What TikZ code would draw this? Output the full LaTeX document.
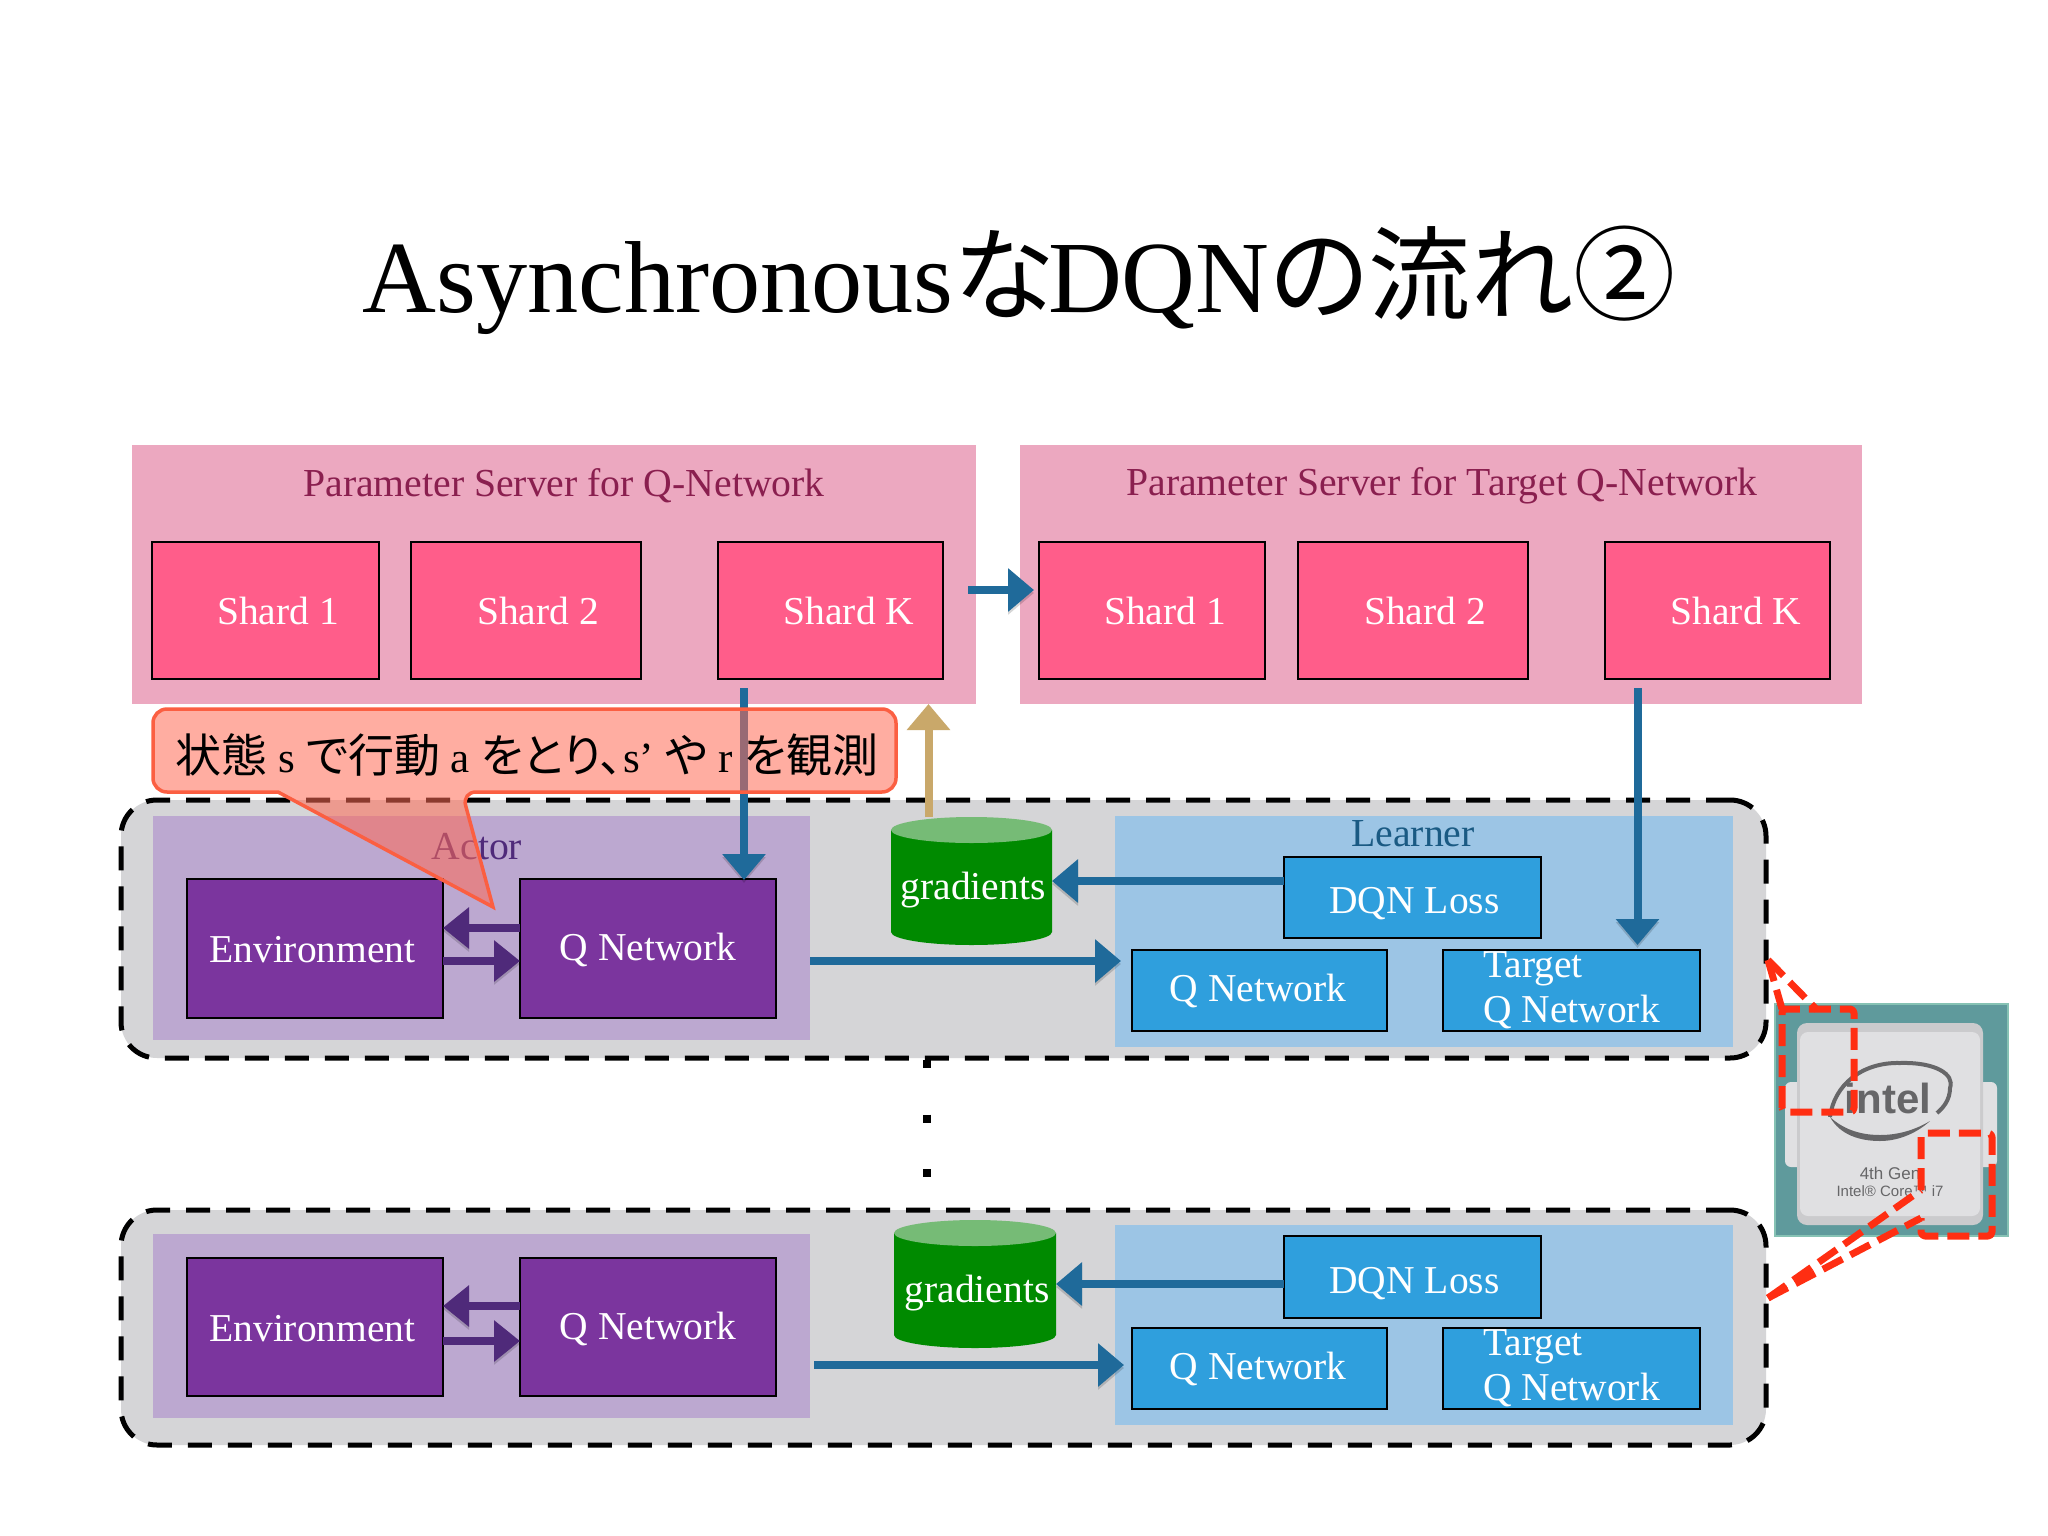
\documentclass[tikz,border=0pt]{standalone}
\usepackage{fontspec}
\setmainfont{Liberation Serif}
\newfontfamily\cjk[RawFeature=+palt]{Noto Sans CJK JP}
\newfontfamily\sansf{Liberation Sans}
\usetikzlibrary{arrows.meta}
\definecolor{panelgray}{HTML}{D5D5D7}
\definecolor{pinkbg}{HTML}{ECA8C0}
\definecolor{shardc}{HTML}{FF5D8A}
\definecolor{maroon}{HTML}{8A1F4F}
\definecolor{lilac}{HTML}{BCA8D0}
\definecolor{purp}{HTML}{7B359E}
\definecolor{dpurp}{HTML}{4F2A7A}
\definecolor{lblue}{HTML}{9CC5E5}
\definecolor{mblue}{HTML}{2F9FDD}
\definecolor{dblue}{HTML}{1F6A9A}
\definecolor{tan}{HTML}{C9A86A}
\definecolor{cylg}{HTML}{008A00}
\definecolor{cylt}{HTML}{76BB76}
\definecolor{calf}{HTML}{FF6A55}
\definecolor{cale}{HTML}{FB5F42}
\definecolor{redd}{HTML}{FF2E12}
\definecolor{chipt}{HTML}{5F9A9C}
\definecolor{chipe}{HTML}{86C2B4}
\definecolor{chipm}{HTML}{CBCBCD}
\definecolor{chips}{HTML}{E0E0E2}
\definecolor{logoc}{HTML}{666668}
\newcommand\rbox[7]{\pgfmathsetmacro\rw{#5-#3}\pgfmathsetmacro\rh{#6-#4}%
  \node[#2,minimum width=\rw pt,minimum height=\rh pt,anchor=north west] (#1) at (#3,#4) {#7};}
\newcommand\cylbox[5]{\rbox{#1}{base}{#2}{#3}{#4}{#5}{}%
  \pgfmathsetmacro\crx{(#4-#2)/2}%
  \fill[cylg] ([yshift=-13pt]#1.north west) -- ([yshift=13pt]#1.south west)
     arc[start angle=180,end angle=360,x radius=\crx pt,y radius=13pt]
     -- ([yshift=-13pt]#1.north east) -- cycle;
  \fill[cylt] ([yshift=-13pt]#1.north) ellipse[x radius=\crx pt,y radius=13pt];}
\newcommand\dn[2]{\raisebox{-#1pt}[\height][\depth]{#2}}
\tikzset{
  base/.style={inner sep=0pt,outer sep=0pt,rectangle},
  outerp/.style={base,fill=panelgray,draw=black,line width=5pt,rounded corners=36pt,dash pattern=on 24pt off 16pt},
  pinkp/.style={base,fill=pinkbg},
  shard/.style={base,fill=shardc,draw=black,line width=1.8pt},
  actorp/.style={base,fill=lilac},
  learnp/.style={base,fill=lblue},
  pbox/.style={base,fill=purp,draw=black,line width=2pt,text=white,font=\fontsize{39.5}{45}\selectfont},
  bbox/.style={base,fill=mblue,draw=black,line width=2pt,text=white,font=\fontsize{39.5}{45}\selectfont,align=left},
  wtxt/.style={inner sep=0pt,text=white,font=\fontsize{39.5}{45}\selectfont},
  head/.style={inner sep=0pt,font=\fontsize{39.7}{45}\selectfont},
  arrshadow/.style={preaction={draw=black,draw opacity=.16,transform canvas={yshift=-3pt}}},
  arr/.style={line width=8pt,-{Triangle[length=26pt,width=42pt]}},
  bluearr/.style={arr,color=dblue,arrshadow},
  purparr/.style={line width=8pt,-{Triangle[length=26pt,width=40pt]},color=dpurp,arrshadow},
  tanarr/.style={arr,color=tan},
  reddash/.style={draw=redd,line width=7pt,dash pattern=on 22pt off 9pt,line join=round},
  x=1pt,y=-1pt}
\begin{document}
\begin{tikzpicture}
\useasboundingbox (0,0) rectangle (2048,1536);
\fill[white] (0,0) rectangle (2048,1536);

% title
\node[inner sep=0pt,font=\fontsize{102.3}{110}\selectfont] (title) at (1019,280)
  {Asynchronous{\cjk な}\kern-6pt DQN{\cjk の流れ②}};

% parameter servers
\rbox{pinkL}{pinkp}{132}{445}{976}{704}{}
\rbox{pinkR}{pinkp}{1020}{445}{1862}{704}{}
\node[head,text=maroon] (psL) at (564,486) {Parameter Server for Q-Network};
\node[head,text=maroon] (psR) at (1442,486) {Parameter Server for Target Q-Network};
\rbox{sa1}{shard}{152}{542}{379}{679}{}
\rbox{sa2}{shard}{411}{542}{641}{679}{}
\rbox{sak}{shard}{718}{542}{943}{679}{}
\rbox{sb1}{shard}{1039}{542}{1265}{679}{}
\rbox{sb2}{shard}{1298}{542}{1528}{679}{}
\rbox{sbk}{shard}{1605}{542}{1830}{679}{}
\node[wtxt] (ta1) at ([xshift=12.5pt,yshift=0pt]sa1.center) {Shard 1};
\node[wtxt] (ta2) at ([xshift=12pt,yshift=0pt]sa2.center) {Shard 2};
\node[wtxt] (tak) at ([xshift=18.5pt,yshift=0pt]sak.center) {Shard K};
\node[wtxt] (tb1) at ([xshift=13pt,yshift=0pt]sb1.center) {Shard 1};
\node[wtxt] (tb2) at ([xshift=12pt,yshift=0pt]sb2.center) {Shard 2};
\node[wtxt] (tbk) at ([xshift=18.5pt,yshift=0pt]sbk.center) {Shard K};

% upper worker
\rbox{outA}{outerp}{121}{800}{1766}{1058}{}
\rbox{actA}{actorp}{153}{816}{810}{1040}{}
\rbox{lrnA}{learnp}{1115}{816}{1733}{1047}{}
\node[head,text=dpurp] (actT) at (477,847) {Actor};
\node[head,text=dblue!85!black] (lrnT) at (1413,834) {Learner};
\rbox{envA}{pbox}{187}{879}{443}{1018}{\dn{1.5}{Environment}\hspace{5pt}\null}
\rbox{qA}{pbox}{520}{879}{776}{1018}{\dn{1.5}{Q Network}}
\rbox{lossA}{bbox}{1284}{857}{1541}{938}{\hspace{4pt}\dn{6.5}{DQN Loss}}
\rbox{qlA}{bbox}{1132}{950}{1387}{1031}{Q Network\hspace{3pt}}
\rbox{tgA}{bbox}{1443}{950}{1700}{1031}{Target\\Q Network}
\cylbox{cylA}{891}{817}{1052}{945}
\node[wtxt] (gradA) at (973,890) {gradients};

% lower worker
\rbox{outB}{outerp}{121}{1210}{1766}{1445}{}
\rbox{actB}{actorp}{153}{1234}{810}{1418}{}
\rbox{lrnB}{learnp}{1115}{1225}{1733}{1425}{}
\rbox{envB}{pbox}{187}{1258}{443}{1396}{\dn{1.5}{Environment}\hspace{5pt}\null}
\rbox{qB}{pbox}{520}{1258}{776}{1396}{\dn{1.5}{Q Network}}
\rbox{lossB}{bbox}{1284}{1236}{1541}{1318}{\hspace{4pt}\dn{6.5}{DQN Loss}}
\rbox{qlB}{bbox}{1132}{1328}{1387}{1409}{Q Network\hspace{3pt}}
\rbox{tgB}{bbox}{1443}{1328}{1700}{1409}{Target\\Q Network}
\cylbox{cylB}{894}{1220}{1056}{1348}
\node[wtxt] (gradB) at (977,1293) {gradients};

% vertical dots
\coordinate (dotsend) at (927,1178);
\draw[line width=8pt,dash pattern=on 8pt off 46.5pt] ([xshift=-16.5pt,yshift=-2pt]outA.south) -- (dotsend);

% connectors, upper
\draw[bluearr] ([xshift=-8pt,yshift=-15.5pt]pinkL.east) -- ([xshift=-5pt,yshift=20.5pt]sb1.west);
\draw[bluearr] ([xshift=-86.5pt,yshift=-9pt]sak.south) -- ([xshift=96pt,yshift=-1pt]qA.north);
\draw[bluearr] ([xshift=-80pt,yshift=-9pt]sbk.south) -- ([xshift=66pt,yshift=5pt]tgA.north);
\draw[purparr] ([yshift=20.5pt]qA.west) -- ([yshift=20.5pt]envA.east);
\draw[purparr] ([yshift=-12.5pt]envA.east) -- ([yshift=-12.5pt]qA.west);
\draw[bluearr] ([yshift=-33pt]actA.east) -- ([xshift=-11pt,yshift=29.5pt]qlA.west);
\draw[bluearr] ([yshift=16.5pt]lossA.west) -- ([yshift=16.5pt]lossA.west -| cylA.east);
\draw[tanarr] ([xshift=-43pt]cylA.north) -- ([xshift=-43pt]cylA.north |- pinkL.south);

% connectors, lower
\draw[purparr] ([yshift=21pt]qB.west) -- ([yshift=21pt]envB.east);
\draw[purparr] ([yshift=-14pt]envB.east) -- ([yshift=-14pt]qB.west);
\draw[bluearr] ([xshift=4pt,yshift=-39pt]actB.east) -- ([xshift=-8pt,yshift=3.5pt]qlB.west);
\draw[bluearr] ([yshift=-7pt]lossB.west) -- ([yshift=-7pt]lossB.west -| cylB.east);

% callout
\path[fill=calf,fill opacity=.55,draw=cale,draw opacity=1,line width=3.5pt,rounded corners=14pt]
  (500,709) -- (896,709) -- (896,792) -- (462,792) [sharp corners] -- (493,907) -- (278,792)
  [rounded corners=14pt] -- (153,792) -- (153,709) -- cycle;
\node[inner sep=0pt,font=\fontsize{43}{45}\selectfont] (calT) at (527,755)
  {{\cjk\fontsize{46}{45}\selectfont 状態} s {\cjk\fontsize{46}{45}\selectfont で行動} a {\cjk\fontsize{46}{45}\selectfont をとり、}s’ {\cjk\fontsize{46}{45}\selectfont や} r {\cjk\fontsize{46}{45}\selectfont を観測}};

% chip
\rbox{chip}{base,fill=chipt,draw=chipe,line width=2pt}{1775}{1004}{2008}{1236}{}
\fill[chips,rounded corners=6pt] (1785,1082) rectangle (1997,1167);
\rbox{lid}{base,fill=chipm,rounded corners=10pt}{1797}{1023}{1983}{1225}{}
\fill[chips,rounded corners=8pt] (1800,1032) rectangle (1980,1216);
\draw[logoc,line width=4pt] (1830,1117) .. controls (1834,1085) and (1862,1062) .. (1900,1063)
  .. controls (1935,1062) and (1955,1074) .. (1950,1088) .. controls (1950,1100) and (1943,1108) .. (1937,1113);
\fill[logoc] (1830,1117) .. controls (1840,1135) and (1860,1141) .. (1880,1141)
  .. controls (1900,1141) and (1918,1132) .. (1930,1121) .. controls (1915,1130) and (1898,1135) .. (1880,1135)
  .. controls (1858,1135) and (1842,1128) .. (1830,1117) -- cycle;
\node[inner sep=0pt,text=logoc,font=\sansf\bfseries\fontsize{42}{42}\selectfont] (intel) at (1888,1098) {intel};
\node[inner sep=0pt,text=logoc,font=\sansf\fontsize{17}{20}\selectfont] (gen) at (1890,1173) {4th Gen};
\node[inner sep=0pt,text=logoc,font=\sansf\fontsize{15}{18}\selectfont] (core) at (1890,1191) {Intel® Core™ i7};

% red zoom marks
\draw[reddash,rounded corners=4pt] (1782,1112) -- (1782,1009) -- (1854,1009) -- (1854,1112) -- cycle;
\draw[reddash,rounded corners=4pt] (1921,1190) -- (1921,1133) -- (1992,1133) -- (1992,1236) -- (1921,1236) -- (1921,1218);
\coordinate (zA) at (1768,960);
\coordinate (zB) at (1768,1298);
\draw[reddash] (zA) -- (1817,1010);
\draw[reddash] (zA) -- (1782,1009);
\draw[reddash] (zB) -- (1921,1190);
\draw[reddash] (zB) -- (1921,1218);
\end{tikzpicture}
\end{document}
